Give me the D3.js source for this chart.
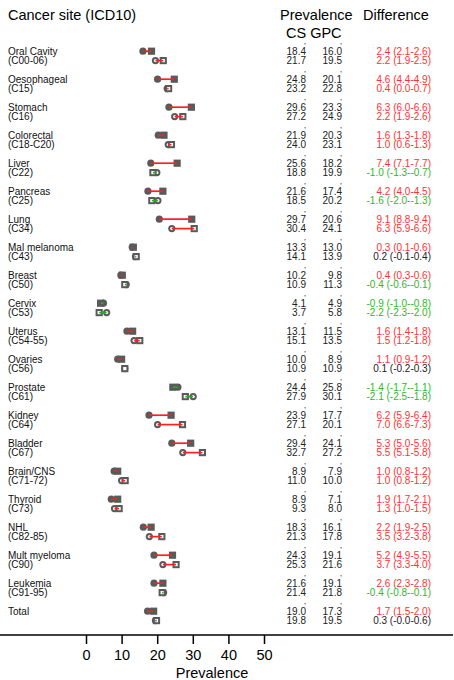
<!DOCTYPE html>
<html><head><meta charset="utf-8">
<script src="https://cdn.jsdelivr.net/npm/d3@7/dist/d3.min.js"></script>
<style>
html,body{margin:0;padding:0;background:#fff;}
svg{display:block;font-family:"Liberation Sans",Arial,Helvetica,sans-serif;}
</style></head>
<body><svg id="chart" width="454" height="680"></svg>
<script>
const siteNames = ["Oral Cavity","Oesophageal","Stomach","Colorectal","Liver","Pancreas","Lung","Mal melanoma","Breast","Cervix","Uterus","Ovaries","Prostate","Kidney","Bladder","Brain/CNS","Thyroid","NHL","Mult myeloma","Leukemia","Total"];
const siteCodes = ["(C00-06)","(C15)","(C16)","(C18-C20)","(C22)","(C25)","(C34)","(C43)","(C50)","(C53)","(C54-55)","(C56)","(C61)","(C64)","(C67)","(C71-72)","(C73)","(C82-85)","(C90)","(C91-95)",""];
// row 1 (filled markers)
const cs1  = [18.4,24.8,29.6,21.9,25.6,21.6,29.7,13.3,10.2,4.1,13.1,10.0,24.4,23.9,29.4,8.9,8.9,18.3,24.3,21.6,19.0];
const gpc1 = [16.0,20.1,23.3,20.3,18.2,17.4,20.6,13.0,9.8,4.9,11.5,8.9,25.8,17.7,24.1,7.9,7.1,16.1,19.1,19.1,17.3];
const diff1 = ["2.4 (2.1-2.6)","4.6 (4.4-4.9)","6.3 (6.0-6.6)","1.6 (1.3-1.8)","7.4 (7.1-7.7)","4.2 (4.0-4.5)","9.1 (8.8-9.4)","0.3 (0.1-0.6)","0.4 (0.3-0.6)","-0.9 (-1.0--0.8)","1.6 (1.4-1.8)","1.1 (0.9-1.2)","-1.4 (-1.7--1.1)","6.2 (5.9-6.4)","5.3 (5.0-5.6)","1.0 (0.8-1.2)","1.9 (1.7-2.1)","2.2 (1.9-2.5)","5.2 (4.9-5.5)","2.6 (2.3-2.8)","1.7 (1.5-2.0)"];
const sig1 = ["up","up","up","up","up","up","up","up","up","down","up","up","down","up","up","up","up","up","up","up","up"];
// row 2 (open markers)
const cs2  = [21.7,23.2,27.2,24.0,18.8,18.5,30.4,14.1,10.9,3.7,15.1,10.9,27.9,27.1,32.7,11.0,9.3,21.3,25.3,21.4,19.8];
const gpc2 = [19.5,22.8,24.9,23.1,19.9,20.2,24.1,13.9,11.3,5.8,13.5,10.9,30.1,20.1,27.2,10.0,8.0,17.8,21.6,21.8,19.5];
const diff2 = ["2.2 (1.9-2.5)","0.4 (0.0-0.7)","2.2 (1.9-2.6)","1.0 (0.6-1.3)","-1.0 (-1.3--0.7)","-1.6 (-2.0--1.3)","6.3 (5.9-6.6)","0.2 (-0.1-0.4)","-0.4 (-0.6--0.1)","-2.2 (-2.3--2.0)","1.5 (1.2-1.8)","0.1 (-0.2-0.3)","-2.1 (-2.5--1.8)","7.0 (6.6-7.3)","5.5 (5.1-5.8)","1.0 (0.8-1.2)","1.3 (1.0-1.5)","3.5 (3.2-3.8)","3.7 (3.3-4.0)","-0.4 (-0.8--0.1)","0.3 (-0.0-0.6)"];
const sig2 = ["up","up","up","up","down","down","up","ns","down","down","up","ns","down","up","up","up","up","up","up","down","ns"];
const xTicks = [0,10,20,30,40,50];

const colorOf = {up:"#ff2020", down:"#22b022", ns:"#222222"};
const textColorOf = {up:"#ff3030", down:"#2db82d", ns:"#222222"};
const markerColor = "#5a5a5a";

const svg = d3.select("#chart");
const x = d3.scaleLinear().domain([0,50]).range([86,264]);
const yRow = d3.scaleLinear().domain([0,20]).range([51.2,611.2]);
const rowGap = 9.4;

// header
svg.append("text").attr("x",8).attr("y",15).attr("dy","0.35em").attr("font-size","14.5px").text("Cancer site (ICD10)");
svg.append("text").attr("x",280).attr("y",15).attr("dy","0.35em").attr("font-size","14.5px").text("Prevalence");
svg.append("text").attr("x",363).attr("y",15).attr("dy","0.35em").attr("font-size","14.5px").text("Difference");
svg.append("text").attr("x",286).attr("y",32.5).attr("dy","0.35em").attr("font-size","14.5px").text("CS GPC");

const rows = siteNames.map((n,i)=>({i,name:n,code:siteCodes[i]}));
const g = svg.append("g");

rows.forEach(r=>{
  const y1 = yRow(r.i), y2 = y1 + rowGap;
  // labels
  g.append("text").attr("x",8).attr("y",y1).attr("dy","0.35em").attr("font-size","10px").attr("fill","#111").text(r.name);
  if (r.code) g.append("text").attr("x",8).attr("y",y2).attr("dy","0.35em").attr("font-size","10px").attr("fill","#111").text(r.code);
  // numbers
  const nums = [[cs1[r.i],306,y1],[gpc1[r.i],342,y1],[cs2[r.i],306,y2],[gpc2[r.i],342,y2]];
  nums.forEach(([v,xx,yy])=>{
    g.append("text").attr("x",xx).attr("y",yy).attr("dy","0.35em").attr("text-anchor","end").attr("font-size","10px").attr("fill","#222").text(v.toFixed(1));
  });
  [305,341].forEach(xx=>g.append("rect").attr("x",xx-0.5).attr("y",y1-8).attr("width",1.2).attr("height",1.2).attr("fill","#555"));
  g.append("text").attr("x",431).attr("y",y1).attr("dy","0.35em").attr("text-anchor","end").attr("font-size","10px").attr("fill",textColorOf[sig1[r.i]]).text(diff1[r.i]);
  g.append("text").attr("x",431).attr("y",y2).attr("dy","0.35em").attr("text-anchor","end").attr("font-size","10px").attr("fill",textColorOf[sig2[r.i]]).text(diff2[r.i]);

  // row1 filled markers
  g.append("circle").attr("cx",x(gpc1[r.i])).attr("cy",y1).attr("r",3.6).attr("fill",markerColor);
  g.append("rect").attr("x",x(cs1[r.i])-3.6).attr("y",y1-3.6).attr("width",7.2).attr("height",7.2).attr("fill",markerColor);
  g.append("line").attr("x1",x(gpc1[r.i])).attr("x2",x(cs1[r.i])).attr("y1",y1).attr("y2",y1)
    .attr("stroke",colorOf[sig1[r.i]]).attr("stroke-width",1.7);
  // row2 open markers
  g.append("circle").attr("cx",x(gpc2[r.i])).attr("cy",y2).attr("r",3.6).attr("fill",markerColor);
  g.append("circle").attr("cx",x(gpc2[r.i])).attr("cy",y2).attr("r",1.6).attr("fill","#fff");
  g.append("rect").attr("x",x(cs2[r.i])-3.6).attr("y",y2-3.6).attr("width",7.2).attr("height",7.2).attr("fill",markerColor);
  g.append("rect").attr("x",x(cs2[r.i])-1.6).attr("y",y2-1.6).attr("width",3.2).attr("height",3.2).attr("fill","#fff");
  g.append("line").attr("x1",x(gpc2[r.i])).attr("x2",x(cs2[r.i])).attr("y1",y2).attr("y2",y2)
    .attr("stroke",colorOf[sig2[r.i]]).attr("stroke-width",1.7);
});

// axis
const axisY = 635;
svg.append("line").attr("x1",0).attr("x2",453).attr("y1",axisY).attr("y2",axisY).attr("stroke","#000").attr("stroke-width",1.6);
const ax = svg.append("g").attr("transform",`translate(0,${axisY})`)
  .call(d3.axisBottom(x).tickValues(xTicks).tickSize(9).tickPadding(6).tickFormat(d3.format("d")));
ax.select(".domain").remove();
ax.selectAll(".tick line").attr("stroke","#000").attr("stroke-width",1.5);
ax.selectAll(".tick text").attr("font-size","14.5px").attr("fill","#000").attr("font-family","'Liberation Sans',Arial,sans-serif");
svg.append("text").attr("x",212).attr("y",673).attr("dy","0.35em").attr("text-anchor","middle").attr("font-size","14.5px").text("Prevalence");
</script></body></html>
